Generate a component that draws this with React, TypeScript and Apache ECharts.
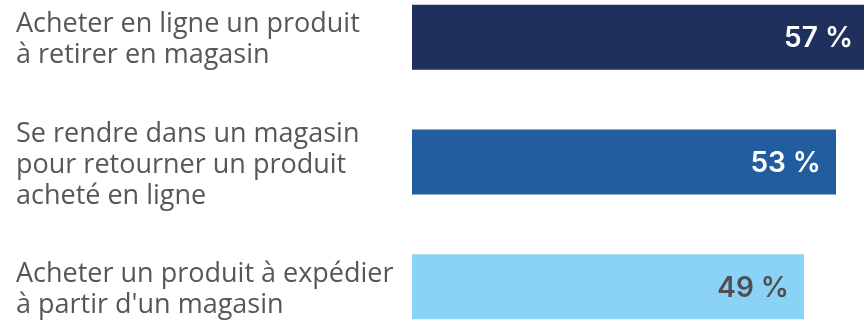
import React, { useEffect, useRef } from "react";
import * as echarts from "echarts";

const categories = [
  "Acheter en ligne un produit\nà retirer en magasin",
  "Se rendre dans un magasin\npour retourner un produit\nacheté en ligne",
  "Acheter un produit à expédier\nà partir d'un magasin",
];
const values = [57, 53, 49];
const barColors = ["#1f305c", "#225da0", "#8bd3f6"];
const labelColors = ["#ffffff", "#ffffff", "#4f4f53"];

export default function App() {
  const ref = useRef<HTMLDivElement>(null);
  useEffect(() => {
    if (!ref.current) return;
    const chart = echarts.init(ref.current, null, { renderer: "svg" });
    chart.setOption({
      animation: false,
      grid: { left: 412, right: 0, top: 0, bottom: 0, containLabel: false },
      xAxis: {
        type: "value",
        min: 0,
        max: 57,
        show: false,
      },
      yAxis: {
        type: "category",
        inverse: true,
        data: categories,
        axisLine: { show: false },
        axisTick: { show: false },
        splitLine: { show: false },
        axisLabel: {
          align: "left",
          margin: 396,
          fontFamily: "Open Sans",
          fontSize: 27,
          lineHeight: 31,
          color: "#55575b",
        },
      },
      series: [
        {
          type: "bar",
          barWidth: 65,
          data: values.map((v, i) => ({
            value: v,
            itemStyle: { color: barColors[i] },
            label: { color: labelColors[i] },
          })),
          label: {
            show: true,
            position: "insideRight",
            distance: 15,
            formatter: (p: any) => p.value + " %",
            fontFamily: "Inter",
            fontWeight: 600,
            fontSize: 28,
          },
        },
      ],
    });
    return () => chart.dispose();
  }, []);
  return (
    <div style={{ position: "fixed", left: 0, top: 0, width: 864, height: 320, overflow: "hidden" }}>
      <div
        ref={ref}
        style={{ position: "absolute", left: 0, top: -25, width: 868, height: 374 }}
      />
    </div>
  );
}
